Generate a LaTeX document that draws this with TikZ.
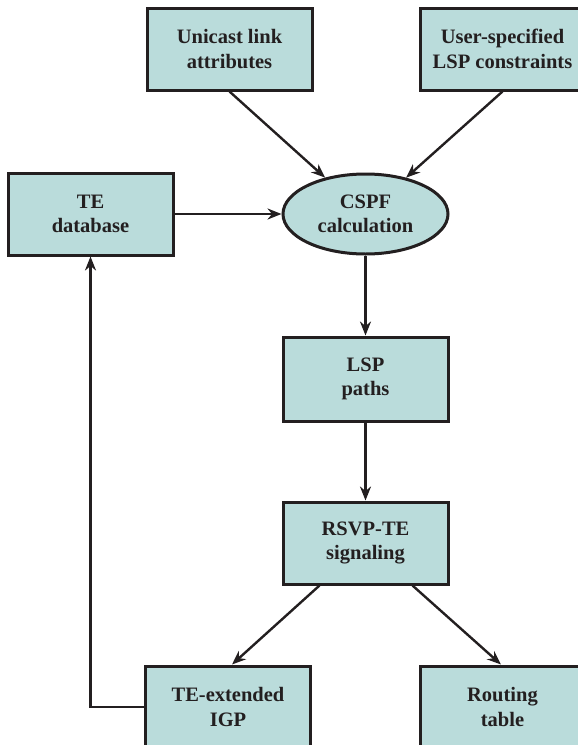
\documentclass[tikz,border=0pt]{standalone}
\usepackage{fontspec}
\setmainfont{Liberation Serif}
\usetikzlibrary{shapes.geometric,arrows.meta}
\definecolor{boxfill}{RGB}{186,220,219}
\definecolor{ink}{RGB}{35,31,32}

\begin{document}
\begin{tikzpicture}[x=1pt,y=-1pt]
 % box and arrow styles
 \tikzset{blk/.style={draw=ink,line width=3pt,fill=boxfill,text=ink,align=center,
   minimum width=165pt,minimum height=82pt,inner sep=2pt,
   font=\fontsize{20.5}{24.5}\selectfont\bfseries},
  oval/.style={blk,ellipse,minimum height=80pt,inner sep=0pt},
  flow/.style={draw=ink,line width=2.4pt,-{Stealth[length=14pt,width=11pt]}}}

 %frame of the page, the right and bottom boxes run off it
 \path[use as bounding box,clip] (0,0) rectangle (578,745);

 %boxes
 \node[blk] (unicast) at (229.5,49) {Unicast link\\attributes};
 \node[blk] (userlsp) at (502.5,49) {User-specified\\LSP constraints};
 \node[blk] (tedb) at (90.5,214) {TE\\database};
 \node[oval] (cspf) at (365.5,214) {CSPF\\calculation};
 \node[blk,minimum height=84pt] (lsppath) at (365.5,379) {LSP\\paths};
 \node[blk] (rsvp) at (365.5,543) {RSVP-TE\\signaling};
 \node[blk] (igp) at (228,707) {TE-extended\\IGP};
 \node[blk] (routing) at (502.5,707) {Routing\\table};

 %arrows
 \draw[flow] (unicast.south) -- (cspf);
 \draw[flow] (userlsp.south) -- (cspf);
 \draw[flow] (tedb) -- (cspf);
 \draw[flow] (cspf) -- (lsppath);
 \draw[flow] (lsppath) -- (rsvp);
 \draw[flow] ([xshift=-46pt]rsvp.south) -- ([xshift=4pt]igp.north);
 \draw[flow] ([xshift=47pt]rsvp.south) -- ([xshift=-1.5pt]routing.north);

 %feedback into the database
 \draw[flow] (igp.west) -| (tedb.south);
\end{tikzpicture}
\end{document}
